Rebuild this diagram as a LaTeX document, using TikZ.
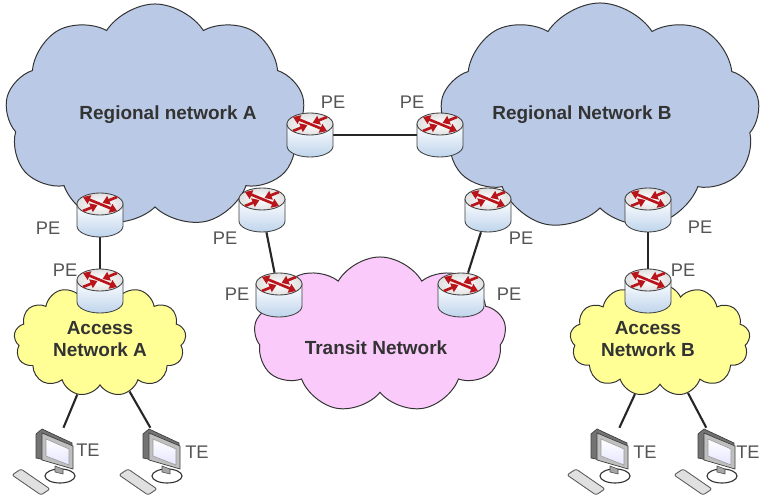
\documentclass[tikz,border=0pt]{standalone}
\usepackage{fontspec}
\setmainfont{Liberation Sans}
\usetikzlibrary{shapes.symbols,arrows.meta}

\definecolor{regblue}{RGB}{186,201,229}
\definecolor{transpink}{RGB}{250,202,250}
\definecolor{accyellow}{RGB}{255,255,150}
\definecolor{pegray}{RGB}{85,85,85}
\definecolor{rtrred}{RGB}{185,20,25}
\definecolor{rtrblue}{RGB}{190,212,236}

\pgfdeclarelayer{background}
\pgfdeclarelayer{wires}
\pgfsetlayers{background,wires,main}

\tikzset{
  rtr arrow/.style={rtrred, line width=1.9pt, -{Triangle[length=5pt,width=6.5pt]}},
  % PE router: cylinder with four arrows on top
  router/.pic={
    \path[draw=black!75, line width=0.6pt, top color=white, bottom color=rtrblue]
      (-23,-11) -- (-23,11) arc[start angle=180, end angle=0, x radius=23, y radius=11] -- (23,-11) -- cycle;
    \path[draw=black!75, line width=0.6pt, inner color=white, outer color=black!12]
      (0,-11) ellipse[x radius=23, y radius=11];
    \foreach \dx/\dy in {17/7,-17/-7}
      \draw[rtr arrow] (0,-11) -- ++(\dx,\dy);
    \foreach \dx/\dy in {17/-7,-17/7}
      \draw[rtr arrow] (\dx,{-11+\dy}) -- ++({-0.85*\dx},{-0.85*\dy});
    \node[minimum width=1.15cm, minimum height=1.1cm, inner sep=0pt] (-n) {};
  },
  % TE: monitor, stand and keyboard
  terminal/.pic={
    \path[draw=black!65, fill=black!12, line width=0.6pt, rounded corners=1.5pt]
      (-43,28) -- (-34,22) -- (-5,42) -- (-14,48) -- cycle;
    \path[draw=black!80, fill=white, line width=0.8pt] (5,29) ellipse[x radius=15, y radius=7];
    \path[draw=black!70, fill=black!35] (0,19) -- (8,22) -- (8,27) -- (0,25) -- cycle;
    \path[draw=black!75, fill=black!55, line width=0.5pt]
      (-19,-13) -- (-13,-18) -- (17,-4) -- (17,19) -- (-19,11) -- cycle;
    \path[draw=black!75, fill=black!25, line width=0.5pt]
      (-13,-14) -- (18,-1) -- (18,22) -- (-13,13) -- cycle;
    \path[draw=black!40, top color=white, bottom color=blue!10] (-9,-8) -- (14,2) -- (14,18) -- (-9,9) -- cycle;
    \node[minimum width=0.9cm, minimum height=1cm, inner sep=0pt] (-mon) at (0,1) {};
  }
}

\begin{document}
\begin{tikzpicture}[x=0.025cm, y=-0.025cm,
  net/.style={cloud, cloud ignores aspect, draw=black!80, line width=0.7pt, inner sep=0pt},
  wire/.style={line width=1.5pt, black!85}]
\useasboundingbox (0,0) rectangle (764,498);
\begin{pgfonlayer}{background}
\fill[white] (0,0) rectangle (764,498);
\end{pgfonlayer}

% clouds
\node[net, fill=regblue, cloud puffs=9, cloud puff arc=115, minimum width=7.5cm, minimum height=5.6cm] (regA) at (155,116) {};
\node[net, fill=regblue, cloud puffs=9, cloud puff arc=115, minimum width=8cm, minimum height=5.7cm] (regB) at (600,117) {};
\node[net, fill=transpink, cloud puffs=9, cloud puff arc=120, minimum width=6.3cm, minimum height=3.9cm] (tran) at (380,335) {};
\node[net, fill=accyellow, cloud puffs=13, cloud puff arc=130, minimum width=4.3cm, minimum height=2.8cm] (accA) at (100,340) {};
\node[net, fill=accyellow, cloud puffs=13, cloud puff arc=130, minimum width=4.5cm, minimum height=2.8cm] (accB) at (660,340) {};

\begin{scope}[every node/.style={font=\fontsize{13.5}{15.5}\selectfont\bfseries, text=black!80, align=center}]
\node (regAname) at (168,115) {Regional network A};
\node (regBname) at (582,115) {Regional Network B};
\node (tranname) at (376,348) {Transit Network};
\node (accAname) at (100,339) {Access\\Network A};
\node (accBname) at (648,339) {Access\\Network B};
\end{scope}

% routers
\pic (rA1) at (310,135) {router};
\pic (rB1) at (440,135) {router};
\pic (rA2) at (100,215) {router};
\pic (rA3) at (262,210) {router};
\pic (rB2) at (488,210) {router};
\pic (rB3) at (648,210) {router};
\pic (rAA) at (100,291) {router};
\pic (rT1) at (279,295) {router};
\pic (rT2) at (461,295) {router};
\pic (rAB) at (648,291) {router};

\begin{scope}[every node/.style={font=\fontsize{13}{15}\selectfont, text=pegray}]
\node (peA1) at (333,102) {PE};
\node (peB1) at (412,102) {PE};
\node (peA2) at (48,228) {PE};
\node (peA3) at (225,238) {PE};
\node (peB2) at (521,238) {PE};
\node (peB3) at (700,227) {PE};
\node (peAA) at (65,270) {PE};
\node (peT1) at (237,294) {PE};
\node (peT2) at (509,294) {PE};
\node (peAB) at (683,270) {PE};
\end{scope}

% end stations
\pic (teA1) at (55,447) {terminal};
\pic (teA2) at (162,447) {terminal};
\pic (teB1) at (610,447) {terminal};
\pic (teB2) at (717,447) {terminal};
\begin{scope}[every node/.style={font=\fontsize{13}{15}\selectfont, text=pegray}]
\node (teA1name) at (88,450) {TE};
\node (teA2name) at (197,452) {TE};
\node (teB1name) at (645,452) {TE};
\node (teB2name) at (748,452) {TE};
\end{scope}

\begin{pgfonlayer}{wires}
\draw[wire] (rA1-n) -- (rB1-n);
\draw[wire] (rA2-n) -- (rAA-n);
\draw[wire] (rA3-n) -- (rT1-n);
\draw[wire] (rB2-n) -- (rT2-n);
\draw[wire] (rB3-n) -- (rAB-n);
\draw[wire] (accA) -- (teA1-mon);
\draw[wire] (accA) -- (teA2-mon);
\draw[wire] (accB) -- (teB1-mon);
\draw[wire] (accB) -- (teB2-mon);
\end{pgfonlayer}
\end{tikzpicture}
\end{document}
